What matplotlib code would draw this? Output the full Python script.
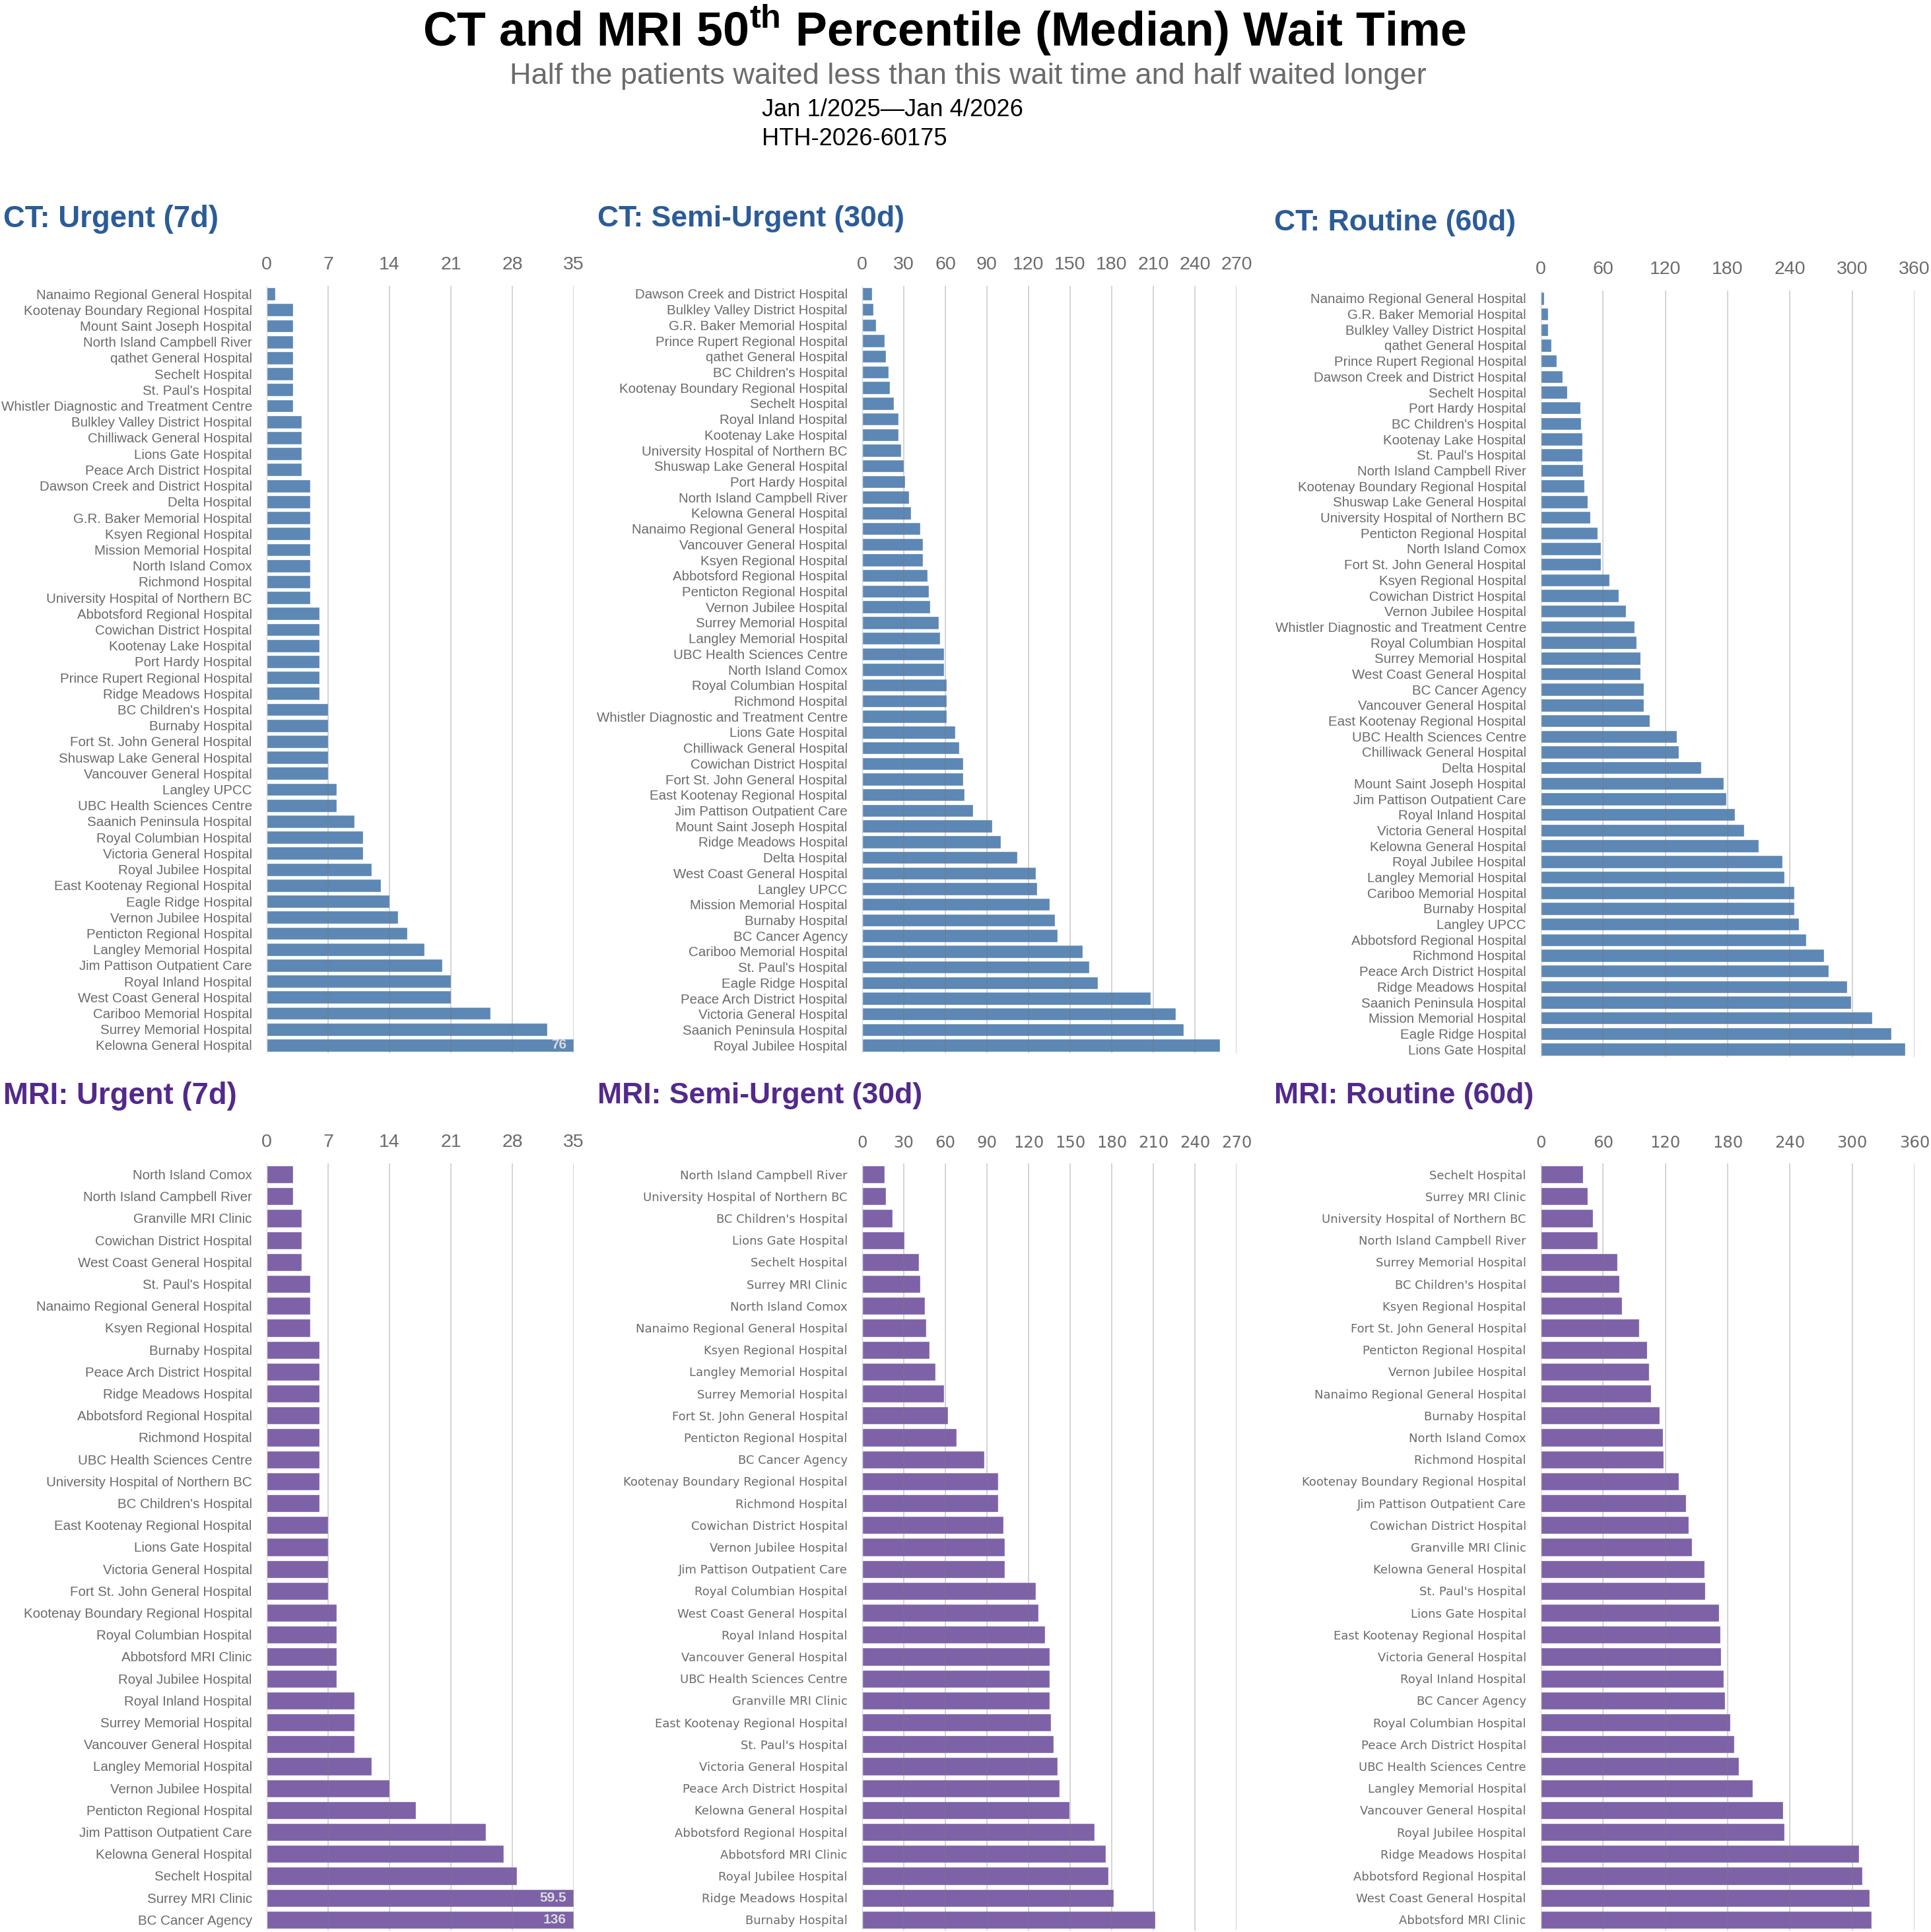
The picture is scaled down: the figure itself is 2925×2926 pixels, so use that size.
import matplotlib
matplotlib.use('Agg')
import matplotlib.pyplot as plt
from matplotlib import font_manager

# ---- data (median wait in days) ----
ct_urgent_sites = [
    "Nanaimo Regional General Hospital", "Kootenay Boundary Regional Hospital", "Mount Saint Joseph Hospital",
    "North Island Campbell River", "qathet General Hospital", "Sechelt Hospital", "St. Paul's Hospital",
    "Whistler Diagnostic and Treatment Centre", "Bulkley Valley District Hospital", "Chilliwack General Hospital",
    "Lions Gate Hospital", "Peace Arch District Hospital", "Dawson Creek and District Hospital", "Delta Hospital",
    "G.R. Baker Memorial Hospital", "Ksyen Regional Hospital", "Mission Memorial Hospital", "North Island Comox",
    "Richmond Hospital", "University Hospital of Northern BC", "Abbotsford Regional Hospital",
    "Cowichan District Hospital", "Kootenay Lake Hospital", "Port Hardy Hospital", "Prince Rupert Regional Hospital",
    "Ridge Meadows Hospital", "BC Children's Hospital", "Burnaby Hospital", "Fort St. John General Hospital",
    "Shuswap Lake General Hospital", "Vancouver General Hospital", "Langley UPCC", "UBC Health Sciences Centre",
    "Saanich Peninsula Hospital", "Royal Columbian Hospital", "Victoria General Hospital", "Royal Jubilee Hospital",
    "East Kootenay Regional Hospital", "Eagle Ridge Hospital", "Vernon Jubilee Hospital",
    "Penticton Regional Hospital", "Langley Memorial Hospital", "Jim Pattison Outpatient Care",
    "Royal Inland Hospital", "West Coast General Hospital", "Cariboo Memorial Hospital", "Surrey Memorial Hospital",
    "Kelowna General Hospital"]
ct_urgent_days = [1, 3, 3, 3, 3, 3, 3, 3, 4, 4, 4, 4, 5, 5, 5, 5, 5, 5, 5, 5, 6, 6, 6, 6, 6, 6,
                  7, 7, 7, 7, 7, 8, 8, 10, 11, 11, 12, 13, 14, 15, 16, 18, 20, 21, 21, 25.5, 32, 76]

ct_semi_sites = [
    "Dawson Creek and District Hospital", "Bulkley Valley District Hospital", "G.R. Baker Memorial Hospital",
    "Prince Rupert Regional Hospital", "qathet General Hospital", "BC Children's Hospital",
    "Kootenay Boundary Regional Hospital", "Sechelt Hospital", "Royal Inland Hospital", "Kootenay Lake Hospital",
    "University Hospital of Northern BC", "Shuswap Lake General Hospital", "Port Hardy Hospital",
    "North Island Campbell River", "Kelowna General Hospital", "Nanaimo Regional General Hospital",
    "Vancouver General Hospital", "Ksyen Regional Hospital", "Abbotsford Regional Hospital",
    "Penticton Regional Hospital", "Vernon Jubilee Hospital", "Surrey Memorial Hospital",
    "Langley Memorial Hospital", "UBC Health Sciences Centre", "North Island Comox", "Royal Columbian Hospital",
    "Richmond Hospital", "Whistler Diagnostic and Treatment Centre", "Lions Gate Hospital",
    "Chilliwack General Hospital", "Cowichan District Hospital", "Fort St. John General Hospital",
    "East Kootenay Regional Hospital", "Jim Pattison Outpatient Care", "Mount Saint Joseph Hospital",
    "Ridge Meadows Hospital", "Delta Hospital", "West Coast General Hospital", "Langley UPCC",
    "Mission Memorial Hospital", "Burnaby Hospital", "BC Cancer Agency", "Cariboo Memorial Hospital",
    "St. Paul's Hospital", "Eagle Ridge Hospital", "Peace Arch District Hospital", "Victoria General Hospital",
    "Saanich Peninsula Hospital", "Royal Jubilee Hospital"]
ct_semi_days = [7, 8, 10, 16, 17, 19, 20, 23, 26, 26, 28, 30, 31, 34, 35, 42, 44, 44, 47, 48, 49, 55, 56,
                59, 59, 61, 61, 61, 67, 70, 73, 73, 74, 80, 94, 100, 112, 125, 126, 135, 139, 141, 159,
                164, 170, 208, 226, 232, 258]

ct_routine_sites = [
    "Nanaimo Regional General Hospital", "G.R. Baker Memorial Hospital", "Bulkley Valley District Hospital",
    "qathet General Hospital", "Prince Rupert Regional Hospital", "Dawson Creek and District Hospital",
    "Sechelt Hospital", "Port Hardy Hospital", "BC Children's Hospital", "Kootenay Lake Hospital",
    "St. Paul's Hospital", "North Island Campbell River", "Kootenay Boundary Regional Hospital",
    "Shuswap Lake General Hospital", "University Hospital of Northern BC", "Penticton Regional Hospital",
    "North Island Comox", "Fort St. John General Hospital", "Ksyen Regional Hospital", "Cowichan District Hospital",
    "Vernon Jubilee Hospital", "Whistler Diagnostic and Treatment Centre", "Royal Columbian Hospital",
    "Surrey Memorial Hospital", "West Coast General Hospital", "BC Cancer Agency", "Vancouver General Hospital",
    "East Kootenay Regional Hospital", "UBC Health Sciences Centre", "Chilliwack General Hospital",
    "Delta Hospital", "Mount Saint Joseph Hospital", "Jim Pattison Outpatient Care", "Royal Inland Hospital",
    "Victoria General Hospital", "Kelowna General Hospital", "Royal Jubilee Hospital", "Langley Memorial Hospital",
    "Cariboo Memorial Hospital", "Burnaby Hospital", "Langley UPCC", "Abbotsford Regional Hospital",
    "Richmond Hospital", "Peace Arch District Hospital", "Ridge Meadows Hospital", "Saanich Peninsula Hospital",
    "Mission Memorial Hospital", "Eagle Ridge Hospital", "Lions Gate Hospital"]
ct_routine_days = [3, 7, 7, 10, 15, 21, 25.5, 38, 39, 40, 40, 41, 42, 45, 48, 55, 58, 58, 66, 75, 82, 90,
                   92, 96, 96, 99, 99, 105, 131, 133, 154.5, 176, 179, 187, 196, 210, 233, 235, 244, 244,
                   249, 256, 273, 277, 295, 299, 319, 338, 351]

mri_urgent_sites = [
    "North Island Comox", "North Island Campbell River", "Granville MRI Clinic", "Cowichan District Hospital",
    "West Coast General Hospital", "St. Paul's Hospital", "Nanaimo Regional General Hospital",
    "Ksyen Regional Hospital", "Burnaby Hospital", "Peace Arch District Hospital", "Ridge Meadows Hospital",
    "Abbotsford Regional Hospital", "Richmond Hospital", "UBC Health Sciences Centre",
    "University Hospital of Northern BC", "BC Children's Hospital", "East Kootenay Regional Hospital",
    "Lions Gate Hospital", "Victoria General Hospital", "Fort St. John General Hospital",
    "Kootenay Boundary Regional Hospital", "Royal Columbian Hospital", "Abbotsford MRI Clinic",
    "Royal Jubilee Hospital", "Royal Inland Hospital", "Surrey Memorial Hospital", "Vancouver General Hospital",
    "Langley Memorial Hospital", "Vernon Jubilee Hospital", "Penticton Regional Hospital",
    "Jim Pattison Outpatient Care", "Kelowna General Hospital", "Sechelt Hospital", "Surrey MRI Clinic",
    "BC Cancer Agency"]
mri_urgent_days = [3, 3, 4, 4, 4, 5, 5, 5, 6, 6, 6, 6, 6, 6, 6, 6, 7, 7, 7, 7, 8, 8, 8, 8,
                   10, 10, 10, 12, 14, 17, 25, 27, 28.5, 59.5, 136]

mri_semi_sites = [
    "North Island Campbell River", "University Hospital of Northern BC", "BC Children's Hospital",
    "Lions Gate Hospital", "Sechelt Hospital", "Surrey MRI Clinic", "North Island Comox",
    "Nanaimo Regional General Hospital", "Ksyen Regional Hospital", "Langley Memorial Hospital",
    "Surrey Memorial Hospital", "Fort St. John General Hospital", "Penticton Regional Hospital", "BC Cancer Agency",
    "Kootenay Boundary Regional Hospital", "Richmond Hospital", "Cowichan District Hospital",
    "Vernon Jubilee Hospital", "Jim Pattison Outpatient Care", "Royal Columbian Hospital",
    "West Coast General Hospital", "Royal Inland Hospital", "Vancouver General Hospital",
    "UBC Health Sciences Centre", "Granville MRI Clinic", "East Kootenay Regional Hospital", "St. Paul's Hospital",
    "Victoria General Hospital", "Peace Arch District Hospital", "Kelowna General Hospital",
    "Abbotsford Regional Hospital", "Abbotsford MRI Clinic", "Royal Jubilee Hospital", "Ridge Meadows Hospital",
    "Burnaby Hospital"]
mri_semi_days = [16, 17, 22, 30.5, 41, 42, 45, 46, 48.5, 53, 59, 62, 68, 88, 98, 98, 102, 103, 103, 125,
                 127, 132, 135, 135, 135, 136, 138, 141, 142.5, 149.5, 167.5, 175.5, 177.5, 181.5, 211.5]

mri_routine_sites = [
    "Sechelt Hospital", "Surrey MRI Clinic", "University Hospital of Northern BC", "North Island Campbell River",
    "Surrey Memorial Hospital", "BC Children's Hospital", "Ksyen Regional Hospital",
    "Fort St. John General Hospital", "Penticton Regional Hospital", "Vernon Jubilee Hospital",
    "Nanaimo Regional General Hospital", "Burnaby Hospital", "North Island Comox", "Richmond Hospital",
    "Kootenay Boundary Regional Hospital", "Jim Pattison Outpatient Care", "Cowichan District Hospital",
    "Granville MRI Clinic", "Kelowna General Hospital", "St. Paul's Hospital", "Lions Gate Hospital",
    "East Kootenay Regional Hospital", "Victoria General Hospital", "Royal Inland Hospital", "BC Cancer Agency",
    "Royal Columbian Hospital", "Peace Arch District Hospital", "UBC Health Sciences Centre",
    "Langley Memorial Hospital", "Vancouver General Hospital", "Royal Jubilee Hospital", "Ridge Meadows Hospital",
    "Abbotsford Regional Hospital", "West Coast General Hospital", "Abbotsford MRI Clinic"]
mri_routine_days = [41, 45, 50, 55, 73.5, 75.5, 78, 95, 102.5, 104.5, 106.5, 114.5, 117.5, 118, 133, 140,
                    142.5, 145.5, 157.5, 158.5, 171.5, 173, 173.5, 176, 177.5, 182.5, 186.5, 190.5, 204,
                    233.5, 234.5, 306.5, 310, 316.5, 318.5]

panel_titles = ["CT: Urgent (7d)", "CT: Semi-Urgent (30d)", "CT: Routine (60d)",
                "MRI: Urgent (7d)", "MRI: Semi-Urgent (30d)", "MRI: Routine (60d)"]
axis_max = [35, 270, 360]
tick_step = [7, 30, 60]

# ---- styling ----
installed = {f.name for f in font_manager.fontManager.ttflist}
if 'Liberation Sans Narrow' in installed:
    NARROW, NS = 'Liberation Sans Narrow', 1.0
else:
    NARROW, NS = 'Liberation Sans', 0.82
REGULAR = 'Liberation Sans'
WIDE = 'DejaVu Sans'

CT_BAR = '#5d87b4'
MRI_BAR = '#7d62a8'
CT_TITLE = '#2b5c98'
MRI_TITLE = '#53298c'
LABEL_GREY = '#6b6b6b'

plt.rcParams['mathtext.fontset'] = 'custom'
plt.rcParams['mathtext.rm'] = NARROW + ':bold'

W, H = 2925, 2926
fig = plt.figure(figsize=(W / 100, H / 100), dpi=100)


def rect(x0, x1, top, bottom):
    return [x0 / W, 1 - bottom / H, (x1 - x0) / W, (bottom - top) / H]


def draw_panel(ax, sites, days, xmax, step, color, lab_font, lab_size, tick_font, tick_size):
    n = len(sites)
    ax.barh(range(n), [min(d, xmax) for d in days], height=0.82, color=color,
            edgecolor='white', linewidth=1.0, zorder=2)
    ax.set_xlim(0, xmax)
    ax.set_ylim(n - 0.5, -0.5)
    ticks = list(range(0, xmax + 1, step))
    ax.set_xticks(ticks)
    ax.set_xticklabels([str(t) for t in ticks], family=tick_font, fontsize=tick_size, color=LABEL_GREY)
    ax.set_yticks(range(n))
    ax.set_yticklabels(sites, family=lab_font, fontsize=lab_size, color=LABEL_GREY)
    ax.tick_params(axis='x', length=0, top=True, bottom=False, labeltop=True, labelbottom=False, pad=14)
    ax.tick_params(axis='y', length=0, pad=16)
    ax.set_axisbelow(False)
    ax.grid(axis='x', color='#7a7a7a', alpha=0.35, linewidth=1.3)
    for s in ax.spines.values():
        s.set_visible(False)
    # bars running past the axis get their value written at the end
    for i, d in enumerate(days):
        if d > xmax:
            ax.annotate(f'{d:g}', xy=(xmax, i), xytext=(-8, 0), textcoords='offset points',
                        ha='right', va='center', fontsize=15, fontweight='bold',
                        family=REGULAR, color='#dcdcdc')


cols = [(404, 869), (1306, 1873), (2334, 2900)]
ct_rows = [(433, 1595), (433, 1595), (440, 1601)]
mri_row = (1762, 2924)

ct_data = [(ct_urgent_sites, ct_urgent_days), (ct_semi_sites, ct_semi_days), (ct_routine_sites, ct_routine_days)]
mri_data = [(mri_urgent_sites, mri_urgent_days), (mri_semi_sites, mri_semi_days),
            (mri_routine_sites, mri_routine_days)]

for k in range(3):
    x0, x1 = cols[k]
    ax = fig.add_axes(rect(x0, x1, *ct_rows[k]))
    draw_panel(ax, *ct_data[k], axis_max[k], tick_step[k], CT_BAR, NARROW, 18.0 * NS, NARROW, 25 * NS)

    ax = fig.add_axes(rect(x0, x1, *mri_row))
    if k == 0:
        draw_panel(ax, *mri_data[k], axis_max[k], tick_step[k], MRI_BAR, NARROW, 18.0 * NS, NARROW, 25 * NS)
    else:
        draw_panel(ax, *mri_data[k], axis_max[k], tick_step[k], MRI_BAR, WIDE, 13, WIDE, 17.5)

# panel headings
title_x = [5, 905, 1930]
ct_title_y = [332, 332, 338]
for k in range(3):
    if k == 0:
        fam, size = NARROW, 40 * NS
    else:
        fam, size = REGULAR, 32
    fig.text(title_x[k] / W, 1 - ct_title_y[k] / H, panel_titles[k], family=fam, fontsize=size,
             fontweight='bold', color=CT_TITLE, ha='left', va='center')
    fig.text(title_x[k] / W, 1 - 1660 / H, panel_titles[k + 3], family=fam, fontsize=size,
             fontweight='bold', color=MRI_TITLE, ha='left', va='center')

# header block
fig.text(1430 / W, 1 - 45 / H, r'CT and MRI 50$^{\mathrm{th}}$ Percentile (Median) Wait Time',
         family=NARROW, fontsize=63 * NS, fontweight='bold', color='black', ha='center', va='center')
fig.text(1466 / W, 1 - 116 / H, 'Half the patients waited less than this wait time and half waited longer',
         family=NARROW, fontsize=39.6 * NS, color='#6b6b6b', ha='center', va='center')
fig.text(1154 / W, 1 - 166 / H, 'Jan 1/2025\u2014Jan 4/2026', family=NARROW, fontsize=31.8 * NS,
         color='black', ha='left', va='center')
fig.text(1154 / W, 1 - 211 / H, 'HTH-2026-60175', family=NARROW, fontsize=31.8 * NS,
         color='black', ha='left', va='center')

fig.savefig('out.png', dpi=100, facecolor='white')
